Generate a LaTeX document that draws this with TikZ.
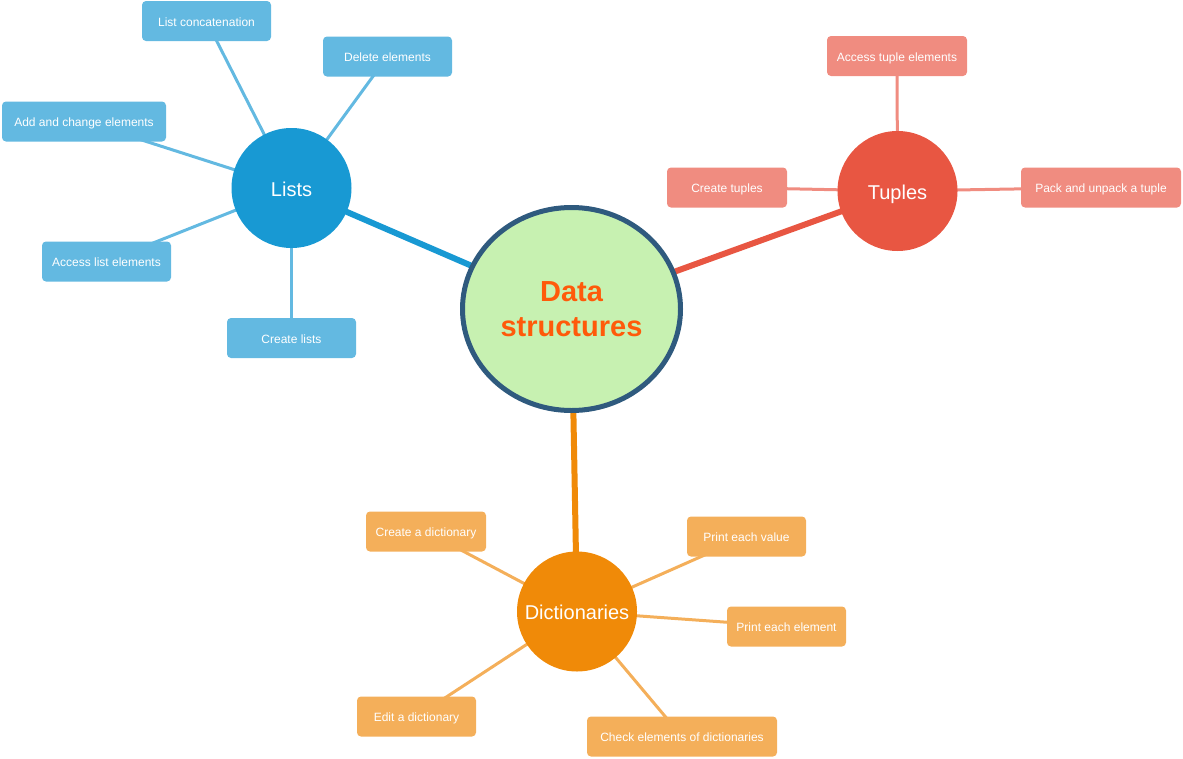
\documentclass[tikz,border=0pt]{standalone}
\usepackage{fontspec}
\setmainfont{Liberation Sans}
\usetikzlibrary{shapes.geometric,backgrounds}
\definecolor{lblue}{HTML}{1899D3}
\definecolor{lbluebox}{HTML}{63B9E1}
\definecolor{tred}{HTML}{E85642}
\definecolor{tredbox}{HTML}{F08C80}
\definecolor{dor}{HTML}{F08A08}
\definecolor{dorbox}{HTML}{F4AF5A}
\definecolor{mainfill}{HTML}{C7F1B1}
\definecolor{mainedge}{HTML}{2F5A7E}
\definecolor{maintext}{HTML}{FF5A0A}
\tikzset{
  leaf/.style={rectangle, rounded corners=4pt, minimum height=40pt, inner sep=0pt, text height=10.5pt, text depth=0pt, text=white, font=\fontsize{12}{14}\selectfont},
  lbox/.style={leaf, fill=lbluebox},
  tbox/.style={leaf, fill=tredbox},
  dbox/.style={leaf, fill=dorbox},
  hub/.style={circle, minimum size=120pt, inner sep=0pt, text height=16.4pt, text depth=0pt, text=white, font=\fontsize{20}{24}\selectfont},
  thin/.style={line width=3pt},
  thick/.style={line width=6pt}
}
\begin{document}
\begin{tikzpicture}[x=1pt,y=-1pt]
\useasboundingbox (0,0) rectangle (1183,758);
% central
\node[ellipse, fill=mainfill, draw=mainedge, line width=5pt, minimum width=218pt, minimum height=203pt, inner sep=0pt, align=center, text=maintext, font=\fontsize{29}{35}\selectfont\bfseries] (ds) at (571.5,309) {Data\\structures};
% hubs
\node[hub, fill=lblue] (lists) at (291.5,188) {Lists};
\node[hub, fill=tred] (tuples) at (897.5,191) {Tuples};
\node[hub, fill=dor] (dict) at (577,611.5) {Dictionaries};
% lists leaves
\node[lbox, minimum width=129pt] (lc) at (206.5,21) {List concatenation};
\node[lbox, minimum width=129pt] (de) at (387.5,56.5) {Delete elements};
\node[lbox, minimum width=164pt] (ac) at (84,121.5) {Add and change elements};
\node[lbox, minimum width=129pt] (al) at (106.5,261.5) {Access list elements};
\node[lbox, minimum width=129pt] (cl) at (291.5,338) {Create lists};
% tuples leaves
\node[tbox, minimum width=140pt] (at) at (897,56) {Access tuple elements};
\node[tbox, minimum width=120pt] (ct) at (727,187.5) {Create tuples};
\node[tbox, minimum width=160pt] (pu) at (1101,187.5) {Pack and unpack a tuple};
% dict leaves
\node[dbox, minimum width=120pt] (cd) at (426,531.5) {Create a dictionary};
\node[dbox, minimum width=119pt] (pv) at (746.5,536.5) {Print each value};
\node[dbox, minimum width=119pt] (pe) at (786.5,626.5) {Print each element};
\node[dbox, minimum width=119pt] (ed) at (416.5,716.5) {Edit a dictionary};
\node[dbox, minimum width=190pt] (ce) at (682,736.5) {Check elements of dictionaries};
\begin{pgfonlayer}{background}
\draw[thick, lblue] (ds.center) -- (lists.center);
\draw[thick, tred] (ds.center) -- (tuples.center);
\draw[thick, dor] (ds.center) -- (dict.center);
\foreach \n in {lc,de,ac,al,cl} \draw[thin, lbluebox] (\n.center) -- (lists.center);
\foreach \n in {at,ct,pu} \draw[thin, tredbox] (\n.center) -- (tuples.center);
\foreach \n in {cd,pv,pe,ed,ce} \draw[thin, dorbox] (\n.center) -- (dict.center);
\end{pgfonlayer}
\end{tikzpicture}
\end{document}
